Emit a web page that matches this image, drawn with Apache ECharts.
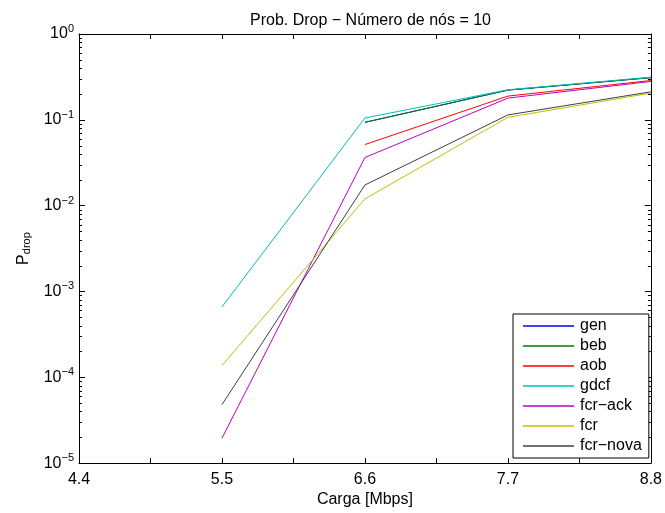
<!DOCTYPE html>
<html>
<head>
<meta charset="utf-8">
<script src="https://cdn.jsdelivr.net/npm/echarts@6/dist/echarts.min.js"></script>
<style>
html,body{margin:0;padding:0;background:#fff;}
#chart{width:665px;height:513px;}
</style>
</head>
<body>
<div id="chart"></div>
<script>
// ---- data ----
const xValues = [5.5, 6.6, 7.7, 8.8];
const seriesNames = ['gen', 'beb', 'aob', 'gdcf', 'fcr\u2212ack', 'fcr', 'fcr\u2212nova'];
const gen     = [null,    0.0935, 0.222, 0.310];
const beb     = [null,    0.0935, 0.222, 0.310];
const aob     = [null,    0.0515, 0.189, 0.287];
const gdcf    = [6.6e-4,  0.105,  0.224, 0.314];
const fcrAck  = [1.95e-5, 0.0364, 0.179, 0.280];
const fcr     = [1.37e-4, 0.0120, 0.107, 0.205];
const fcrNova = [4.8e-5,  0.0174, 0.114, 0.212];
const xTickLabels = ['4.4', '5.5', '6.6', '7.7', '8.8'];
const yMinorTicks = [];
for (let e = -5; e < 0; e++) for (let m = 2; m <= 9; m++) yMinorTicks.push(m * Math.pow(10, e));

const allValues = [gen, beb, aob, gdcf, fcrAck, fcr, fcrNova];
const colors = ['#0000ff', '#008000', '#ff0000', '#00bfbf', '#bf00bf', '#bfbf00', '#404040'];

const FONT = 'Liberation Sans, Arial, Helvetica, sans-serif';

const chart = echarts.init(document.getElementById('chart'), null, {renderer: 'canvas'});

function xLabel(v) {
  const s = v.toFixed(2).replace(/0$/, '');
  return xTickLabels.indexOf(s) >= 0 ? s : '';
}
function yLabel(v) {
  const e = Math.round(Math.log10(v));
  const es = e < 0 ? '\u2212' + (-e) : String(e);
  return '{b|10}{s|' + es + '}';
}

const lineSeries = allValues.map((vals, i) => ({
  name: seriesNames[i],
  type: 'line',
  xAxisIndex: 0,
  yAxisIndex: 0,
  symbol: 'none',
  connectNulls: false,
  animation: false,
  color: colors[i],
  itemStyle: {color: colors[i]},
  lineStyle: {width: 1, color: colors[i]},
  data: xValues.map((x, j) => [x, vals[j] === null ? '-' : vals[j]])
}));

const minorSeries = {
  type: 'custom',
  silent: true,
  animation: false,
  xAxisIndex: 0,
  yAxisIndex: 0,
  data: yMinorTicks.map(v => [4.4, v]),
  renderItem: function (params, api) {
    const v = api.value(1);
    const p1 = api.coord([4.4, v]);
    const p2 = api.coord([8.8, v]);
    const y = Math.round(p1[1]) + 0.5;
    return {
      type: 'group',
      children: [
        {type: 'line', shape: {x1: p1[0], y1: y, x2: p1[0] + 3, y2: y}, style: {stroke: '#000', lineWidth: 1}},
        {type: 'line', shape: {x1: p2[0] - 3, y1: y, x2: p2[0], y2: y}, style: {stroke: '#000', lineWidth: 1}}
      ]
    };
  }
};

const option = {
  backgroundColor: '#fff',
  animation: false,
  textStyle: {fontFamily: FONT},
  title: {
    text: 'Prob. Drop \u2212 N\u00famero de n\u00f3s = 10',
    left: 365.5,
    textAlign: 'center',
    top: 8,
    textStyle: {fontFamily: FONT, fontSize: 16, fontWeight: 'normal', color: '#000'}
  },
  grid: {left: 79, top: 34, right: 13, bottom: 48, containLabel: false},
  legend: {
    data: seriesNames,
    orient: 'vertical',
    left: 513,
    top: 314,
    icon: 'rect',
    itemWidth: 51,
    itemHeight: 1.5,
    itemGap: 0,
    padding: [2, 7, 2, 10],
    backgroundColor: '#fff',
    borderColor: '#000',
    borderWidth: 1,
    borderRadius: 0,
    selectedMode: false,
    textStyle: {fontFamily: FONT, fontSize: 16, color: '#000', lineHeight: 20, padding: [0, 0, 0, 1]}
  },
  xAxis: [{
    type: 'value',
    min: 4.4,
    max: 8.8,
    interval: 0.55,
    position: 'bottom',
    name: 'Carga [Mbps]',
    nameLocation: 'middle',
    nameGap: 27,
    nameTextStyle: {fontFamily: FONT, fontSize: 16, color: '#000'},
    axisLine: {show: true, onZero: false, lineStyle: {color: '#000', width: 1}},
    axisTick: {show: true, inside: true, length: 5, lineStyle: {color: '#000'}},
    axisLabel: {formatter: xLabel, fontFamily: FONT, fontSize: 16, color: '#000', margin: 8, showMinLabel: true, showMaxLabel: true},
    splitLine: {show: false}
  }, {
    type: 'value',
    min: 4.4,
    max: 8.8,
    interval: 0.55,
    position: 'top',
    axisLine: {show: true, onZero: false, lineStyle: {color: '#000', width: 1}},
    axisTick: {show: true, inside: true, length: 5, lineStyle: {color: '#000'}},
    axisLabel: {show: false},
    splitLine: {show: false}
  }],
  yAxis: [{
    type: 'log',
    logBase: 10,
    min: 1e-5,
    max: 1,
    position: 'left',
    name: '{p|P}{d|drop}',
    nameLocation: 'middle',
    nameRotate: 90,
    nameGap: 42,
    nameTextStyle: {
      fontFamily: FONT, color: '#000',
      rich: {
        p: {fontFamily: FONT, fontSize: 16, color: '#000'},
        d: {fontFamily: FONT, fontSize: 11, color: '#000', padding: [8, 0, 0, 0]}
      }
    },
    axisLine: {show: true, onZero: false, lineStyle: {color: '#000', width: 1}},
    axisTick: {show: true, inside: true, length: 6, lineStyle: {color: '#000'}},
    minorTick: {show: false},
    axisLabel: {
      formatter: yLabel,
      margin: 5,
      showMinLabel: true,
      showMaxLabel: true,
      rich: {
        b: {fontFamily: FONT, fontSize: 16, color: '#000'},
        s: {fontFamily: FONT, fontSize: 11, color: '#000', padding: [0, 0, 10, 0]}
      }
    },
    splitLine: {show: false}
  }, {
    type: 'log',
    logBase: 10,
    min: 1e-5,
    max: 1,
    position: 'right',
    axisLine: {show: true, onZero: false, lineStyle: {color: '#000', width: 1}},
    axisTick: {show: true, inside: true, length: 6, lineStyle: {color: '#000'}},
    axisLabel: {show: false},
    splitLine: {show: false}
  }],
  series: lineSeries.concat([minorSeries])
};

chart.setOption(option);
</script>
</body>
</html>
